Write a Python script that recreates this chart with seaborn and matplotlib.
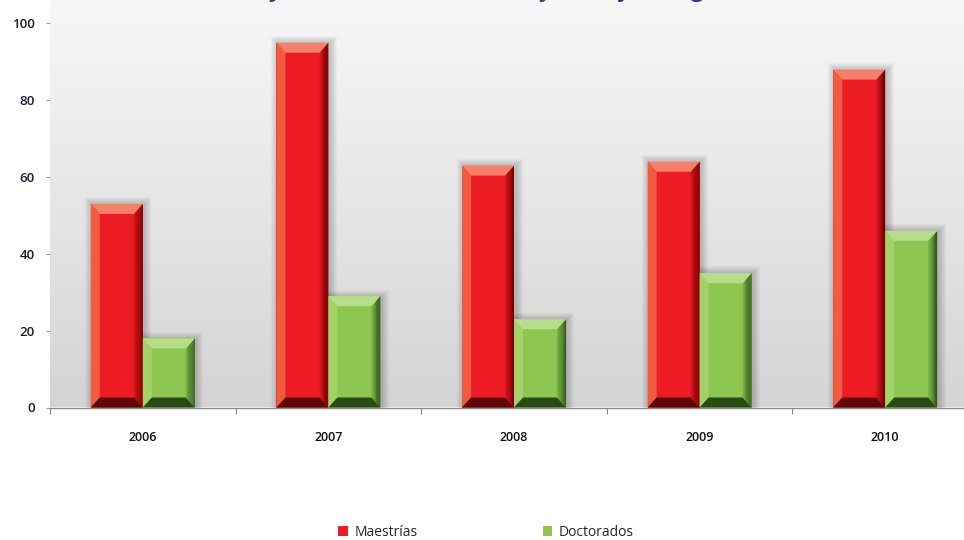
import numpy as np
import pandas as pd
import matplotlib
matplotlib.use("Agg")
import matplotlib.pyplot as plt
import matplotlib.colors as mcolors
from matplotlib.patches import Polygon, Rectangle, Patch
import seaborn as sns

# ---- data ----
years = ["2006", "2007", "2008", "2009", "2010"]
maestrias = [53, 95, 63, 64, 88]
doctorados = [18, 29, 23, 35, 46]
series_names = ["Maestrías", "Doctorados"]
y_ticks = [0, 20, 40, 60, 80, 100]
title = "Tesis y documentos recientes y trabajos de grado"

df = pd.DataFrame({
    "Año": years * 2,
    "Valor": maestrias + doctorados,
    "Tipo": [series_names[0]] * len(years) + [series_names[1]] * len(years),
})

# ---- style ----
sns.set_theme(style="white")
plt.rcParams["font.family"] = ["Open Sans", "DejaVu Sans"]

RED = "#ed1c24"
GREEN = "#8dc752"
bevel_colors = {
    RED: dict(top="#f4806a", left="#f15c40", right="#6e0000", bottom="#5e0505"),
    GREEN: dict(top="#b7dd8c", left="#a2d268", right="#2f5417", bottom="#2a4c14"),
}

W, H = 964, 540
fig = plt.figure(figsize=(W / 100, H / 100), dpi=100)
left_px, right_px = 50, 978
zero_px = 407.5          # baseline, measured from the top of the figure
unit_px = 3.84           # pixels per value unit
ymax = zero_px / unit_px
ax = fig.add_axes([left_px / W, (H - zero_px) / H,
                   (right_px - left_px) / W, zero_px / H])

# gradient plot-area background
grad = np.linspace(0, 1, 256).reshape(-1, 1)
bg_cmap = mcolors.LinearSegmentedColormap.from_list("bg", ["#d4d4d4", "#e6e6e6", "#f7f7f7"])
ax.imshow(grad, extent=[-0.5, len(years) - 0.5, 0, ymax], origin="lower",
          aspect="auto", cmap=bg_cmap, zorder=0, interpolation="bicubic")

sns.barplot(data=df, x="Año", y="Valor", hue="Tipo", palette=[RED, GREEN],
            width=0.56, saturation=1, ax=ax, legend=False, zorder=3,
            linewidth=0)

ax.set_xlim(-0.5, len(years) - 0.5)
ax.set_ylim(0, ymax)

# pixel scale for bevel / shadow sizes
px_x = (right_px - left_px) / len(years)
px_y = unit_px


def shade(c1, c2, t):
    a = np.array(mcolors.to_rgb(c1))
    b = np.array(mcolors.to_rgb(c2))
    return tuple(a + (b - a) * t)


for container, col in zip(ax.containers, [RED, GREEN]):
    bc = bevel_colors[col]
    for rect in container:
        x0 = rect.get_x()
        w = rect.get_width()
        h = rect.get_height()
        x1 = x0 + w
        # soft drop shadow
        for k in range(1, 8):
            ax.add_patch(Rectangle((x0 - k / px_x + 1.5 / px_x, -0.1),
                                   w + 2 * k / px_x, h + k / px_y,
                                   facecolor="black", alpha=0.028,
                                   linewidth=0, zorder=2))
        bx = 9 / px_x
        by = 10 / px_y
        # left bevel
        ax.add_patch(Polygon([(x0, h), (x0 + bx, h - by), (x0 + bx, by), (x0, 0)],
                             closed=True, facecolor=bc["left"], linewidth=0, zorder=4))
        # right bevel as a graded strip
        n = 8
        for i in range(n):
            t0 = i / n
            t1 = (i + 1) / n
            xa = x1 - bx + bx * t0
            xb = x1 - bx + bx * t1
            ya_top = h - by * (1 - t0)
            yb_top = h - by * (1 - t1)
            ya_bot = by * (1 - t0)
            yb_bot = by * (1 - t1)
            ax.add_patch(Polygon([(xa, ya_top), (xb, yb_top), (xb, yb_bot), (xa, ya_bot)],
                                 closed=True, facecolor=shade(col, bc["right"], (t1 ** 0.8)),
                                 linewidth=0, zorder=4))
        # top bevel
        ax.add_patch(Polygon([(x0, h), (x1, h), (x1 - bx, h - by), (x0 + bx, h - by)],
                             closed=True, facecolor=bc["top"], linewidth=0, zorder=5))
        # bottom bevel
        ax.add_patch(Polygon([(x0, 0), (x1, 0), (x1 - bx, by), (x0 + bx, by)],
                             closed=True, facecolor=bc["bottom"], linewidth=0, zorder=5))

# axes decoration
for s in ["top", "right", "left"]:
    ax.spines[s].set_visible(False)
ax.spines["bottom"].set_color("#8a8a8a")
ax.spines["bottom"].set_linewidth(1.0)
ax.spines["bottom"].set_zorder(6)

ax.set_yticks(y_ticks)
ax.set_yticklabels([str(v) for v in y_ticks])
ax.tick_params(axis="y", length=3, width=0.8, color="#9a9a9a", pad=8,
               labelsize=9.5, labelcolor="#1c1c30", left=True)
for lbl in ax.get_yticklabels():
    lbl.set_fontweight("semibold")
ax.set_xticks(range(len(years)))
ax.set_xticklabels(years)
ax.set_xticks(np.arange(-0.5, len(years), 1.0), minor=True)
ax.tick_params(axis="x", which="major", length=0, pad=17, labelsize=9, labelcolor="#111111")
for lbl in ax.get_xticklabels():
    lbl.set_fontweight("semibold")
ax.tick_params(axis="x", which="minor", length=4, width=0.8, color="#8a8a8a", bottom=True)
ax.set_xlabel("")
ax.set_ylabel("")

# legend
handles = [Patch(facecolor=RED, edgecolor="none"), Patch(facecolor=GREEN, edgecolor="none")]
fig.legend(handles, series_names, loc="center", bbox_to_anchor=(486 / W, 1 - 532 / H),
           ncol=2, frameon=False, fontsize=10, handlelength=0.7, handleheight=0.7,
           columnspacing=9.0, handletextpad=0.45)

# title (sits at the very top edge)
fig.text(484 / W, 1 + 3.5 / H, title, ha="center", va="baseline", fontsize=17,
         fontweight="bold", style="italic", color="#2e3a8c")

fig.savefig("out.png", dpi=100)
